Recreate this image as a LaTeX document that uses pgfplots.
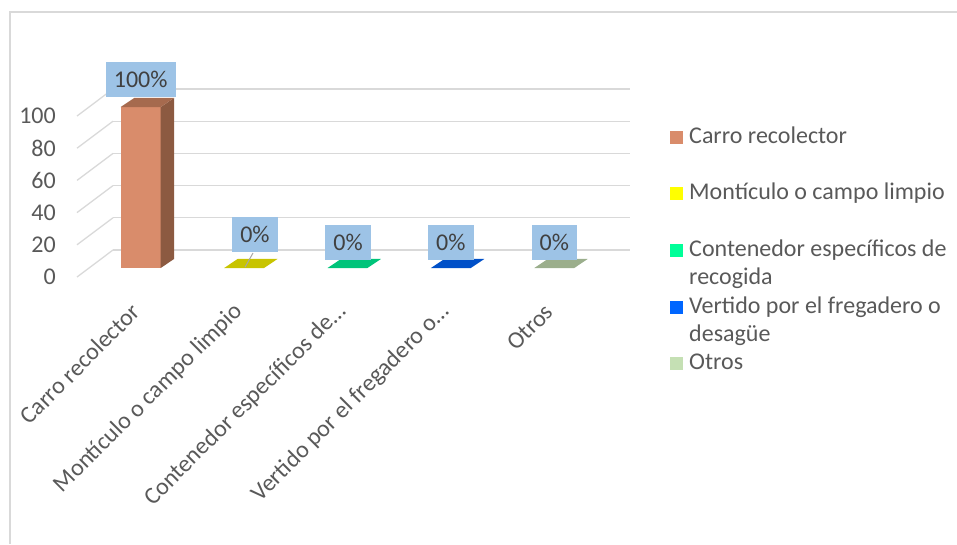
\documentclass[border=0pt]{standalone}
\usepackage{pgfplots}
\pgfplotsset{compat=1.18}
\usepackage{fontspec}
\setmainfont{Carlito}
\definecolor{txt}{HTML}{595959}
\definecolor{gridc}{HTML}{D9D9D9}
\definecolor{lbl}{HTML}{9DC3E6}
\definecolor{carroF}{HTML}{D98C6B}
\definecolor{carroS}{HTML}{8C5A41}
\definecolor{carroT}{HTML}{A66A4E}
\definecolor{montF}{HTML}{C8C400}
\definecolor{contF}{HTML}{00C47A}
\definecolor{vertF}{HTML}{0050C8}
\definecolor{otroF}{HTML}{9BAE8C}
\definecolor{carroL}{HTML}{D98C6B}
\definecolor{montL}{HTML}{FFFF00}
\definecolor{contL}{HTML}{00FF99}
\definecolor{vertL}{HTML}{0066FF}
\definecolor{otroL}{HTML}{C5E0B4}
\pgfplotsset{
  legsq/.style={legend image code/.code={\path[##1] (0pt,-6.5pt) rectangle (13pt,6.5pt);}},
  legnone/.style={legend image code/.code={}},
}
\begin{document}
\begin{tikzpicture}[font=\fontsize{24pt}{29pt}\selectfont, text=txt]
\path[use as bounding box] (-89pt,-276pt) rectangle (868pt,268pt);
\draw[gridc, line width=1.5pt] (-79pt,-276pt) -- (-79pt,256pt) -- (868pt,256pt);
\begin{axis}[at={(0pt,0pt)}, anchor=south west, scale only axis,
  width=517pt, height=161pt,
  xmin=-0.5, xmax=4.5, ymin=0, ymax=100, clip=false,
  axis line style={draw=none}, tick style={draw=none},
  ytick={0,20,40,60,80,100}, yticklabels={0,20,40,60,80,100},
  yticklabel style={anchor=east, inner sep=0pt, xshift=-33pt, yshift=-9pt, text=txt},
  xtick={0,1,2,3,4},
  xticklabels={Carro recolector, Montículo o campo limpio, Contenedor específicos de…, Vertido por el fregadero o…, Otros},
  xticklabel style={xshift=-5pt, yshift=-40pt, rotate=45, anchor=east, inner sep=0pt, text=txt},
  ymajorgrids, major grid style={draw=gridc, line width=1.3pt, xshift=24pt, yshift=18pt},
  legend style={at={(1.1238,0.882)}, anchor=north west, draw=none, fill=none, inner sep=0pt,
    column sep=6pt, row sep=6.3pt, nodes={inner sep=0pt, text height=17pt, text depth=5pt, text=txt}},
  legend cell align=left,
]
% left wall lines
\addplot[gridc, line width=1.3pt, forget plot] coordinates {(-0.616,-5.59) (-0.268,11.18)};
\addplot[gridc, line width=1.3pt, forget plot] coordinates {(-0.616,14.41) (-0.268,31.18)};
\addplot[gridc, line width=1.3pt, forget plot] coordinates {(-0.616,34.41) (-0.268,51.18)};
\addplot[gridc, line width=1.3pt, forget plot] coordinates {(-0.616,54.41) (-0.268,71.18)};
\addplot[gridc, line width=1.3pt, forget plot] coordinates {(-0.616,74.41) (-0.268,91.18)};
\addplot[gridc, line width=1.3pt, forget plot] coordinates {(-0.616,94.41) (-0.268,111.18)};
% bar 1 (100)
\addplot[ybar, bar width=40pt, fill=carroF, draw=none, forget plot] coordinates {(0,100)};
\addplot[fill=carroS, draw=none, forget plot] coordinates {(0.193,0) (0.323,5.6) (0.323,105.6) (0.193,100)} -- cycle;
\addplot[fill=carroT, draw=none, forget plot] coordinates {(-0.193,100) (0.193,100) (0.323,105.6) (-0.063,105.6)} -- cycle;
% zero bars (flat floors)
\addplot[fill=montF, draw=none, forget plot] coordinates {(0.807,0) (1.193,0) (1.323,5.6) (0.937,5.6)} -- cycle;
\addplot[fill=contF, draw=none, forget plot] coordinates {(1.807,0) (2.193,0) (2.323,5.6) (1.937,5.6)} -- cycle;
\addplot[fill=vertF, draw=none, forget plot] coordinates {(2.807,0) (3.193,0) (3.323,5.6) (2.937,5.6)} -- cycle;
\addplot[fill=otroF, draw=none, forget plot] coordinates {(3.807,0) (4.193,0) (4.323,5.6) (3.937,5.6)} -- cycle;
% leader line
\addplot[black!35, line width=1pt, forget plot] coordinates {(1.086,9.3) (1.009,0.5)};
% data labels
\addplot[draw=none, mark=none, forget plot, point meta=explicit symbolic, nodes near coords,
  nodes near coords style={anchor=center, fill=lbl, text=black!75, inner xsep=8pt, inner ysep=0pt,
  minimum height=35pt, text height=16pt, text depth=0pt}]
  coordinates {(0,117.1) [100\%] (1.105,20.8) [0\%] (2.005,15.8) [0\%] (3,15.8) [0\%] (4,15.8) [0\%]};
% legend
\addlegendimage{legsq, fill=carroL, draw=none}\addlegendentry{Carro recolector}
\addlegendimage{legnone}\addlegendentry{\mbox{}}
\addlegendimage{legsq, fill=montL, draw=none}\addlegendentry{Montículo o campo limpio}
\addlegendimage{legnone}\addlegendentry{\mbox{}}
\addlegendimage{legsq, fill=contL, draw=none}\addlegendentry{Contenedor específicos de}
\addlegendimage{legnone}\addlegendentry{recogida}
\addlegendimage{legsq, fill=vertL, draw=none}\addlegendentry{Vertido por el fregadero o}
\addlegendimage{legnone}\addlegendentry{desagüe}
\addlegendimage{legsq, fill=otroL, draw=none}\addlegendentry{Otros}
\end{axis}
\end{tikzpicture}
\end{document}
